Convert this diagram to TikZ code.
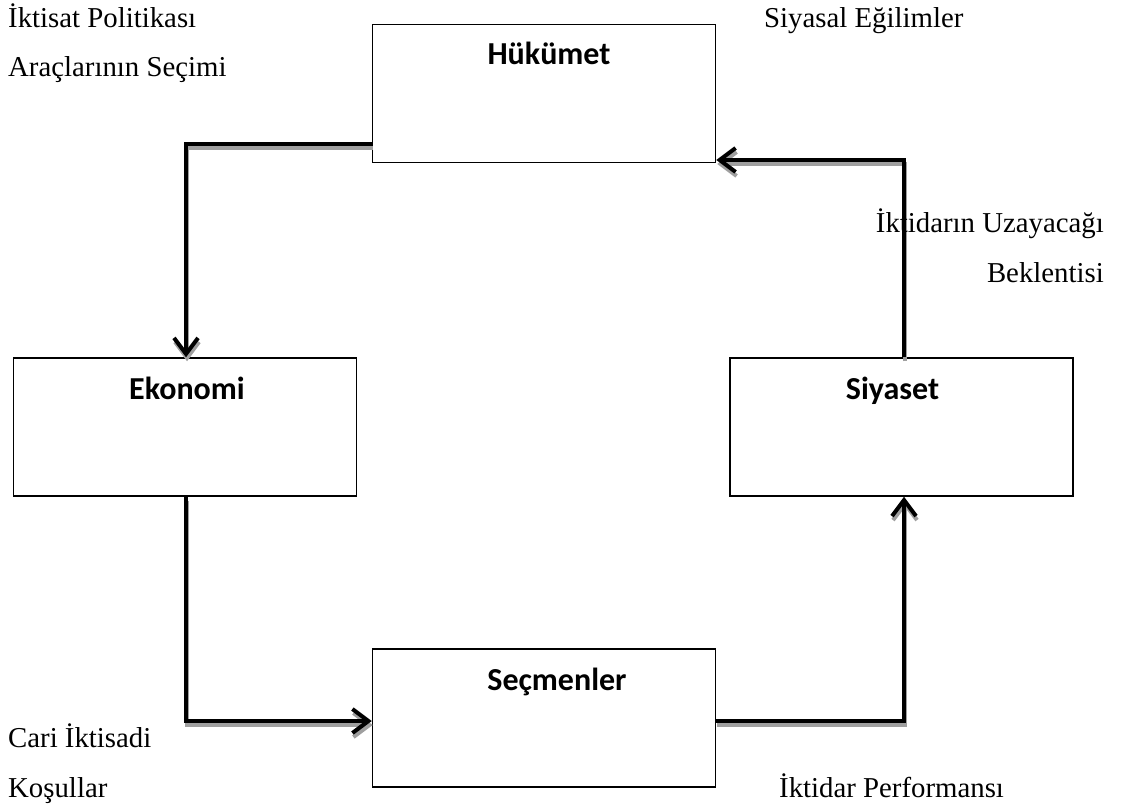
\documentclass[tikz,border=0pt]{standalone}
\usepackage{fontspec}
\setmainfont{Liberation Serif}
\newfontfamily\boxfont{Carlito}
\usepackage{tikz}
\usetikzlibrary{arrows.meta, positioning}

\begin{document}
\begin{tikzpicture}[
    x=1pt, y=-1pt,
    box/.style={rectangle, draw=black, line width=1.5pt, minimum width=343pt, minimum height=138pt, inner sep=0pt},
    boxtext/.style={font=\boxfont\bfseries\fontsize{32}{38}\selectfont, anchor=base, inner sep=0pt},
    note/.style={font=\fontsize{28.8}{34}\selectfont, inner sep=0pt},
    flow/.style={line width=4pt, -{Straight Barb[length=16pt, width=24pt, line width=4pt]}},
    flowshade/.style={flow, draw=gray!75, transform canvas={xshift=1pt, yshift=-4pt}}
]
\useasboundingbox (0,0) rectangle (1121,805);

\node[box] (hukumet) at (544,93.5) {};
\node[box] (ekonomi) at (185,427) {};
\node[box] (siyaset) at (901.5,427) {};
\node[box] (secmen) at (544,718) {};

\node[boxtext] (hukumet text) at ([xshift=5pt, yshift=-41pt]hukumet.north) {Hükümet};
\node[boxtext] (ekonomi text) at ([xshift=2pt, yshift=-42pt]ekonomi.north) {Ekonomi};
\node[boxtext] (siyaset text) at ([xshift=-9pt, yshift=-42pt]siyaset.north) {Siyaset};
\node[boxtext] (secmen text) at ([xshift=13pt, yshift=-42pt]secmen.north) {Seçmenler};

% bends of the loop
\coordinate (c1) at (186,144);
\coordinate (c2) at (186,721);
\coordinate (c3) at (904,721);
\coordinate (c4) at (904,160);

\draw[flowshade] (hukumet.west |- c1) -| (c1 |- ekonomi.north);
\draw[flowshade] (c2 |- ekonomi.south) |- (secmen.west |- c2);
\draw[flowshade] (secmen.east |- c3) -| (c3 |- siyaset.south);
\draw[flowshade] (c4 |- siyaset.north) |- (hukumet.east |- c4);

\draw[flow] (hukumet.west |- c1) -| (c1 |- ekonomi.north);
\draw[flow] (c2 |- ekonomi.south) |- (secmen.west |- c2);
\draw[flow] (secmen.east |- c3) -| (c3 |- siyaset.south);
\draw[flow] (c4 |- siyaset.north) |- (hukumet.east |- c4);

\node[note, anchor=base west] (arac1) at (8,28) {İktisat Politikası};
\node[note, anchor=base west] (arac2) at (8,77) {Araçlarının Seçimi};
\node[note, anchor=base west] (egilim) at (764,28) {Siyasal Eğilimler};
\node[note, anchor=base east] (beklenti1) at (1104,233) {İktidarın Uzayacağı};
\node[note, anchor=base east] (beklenti2) at (1104,282) {Beklentisi};
\node[note, anchor=base west] (kosul1) at (8,747) {Cari İktisadi};
\node[note, anchor=base west] (kosul2) at (8,797) {Koşullar};
\node[note, anchor=base west] (performans) at (779,797) {İktidar Performansı};

\end{tikzpicture}
\end{document}
